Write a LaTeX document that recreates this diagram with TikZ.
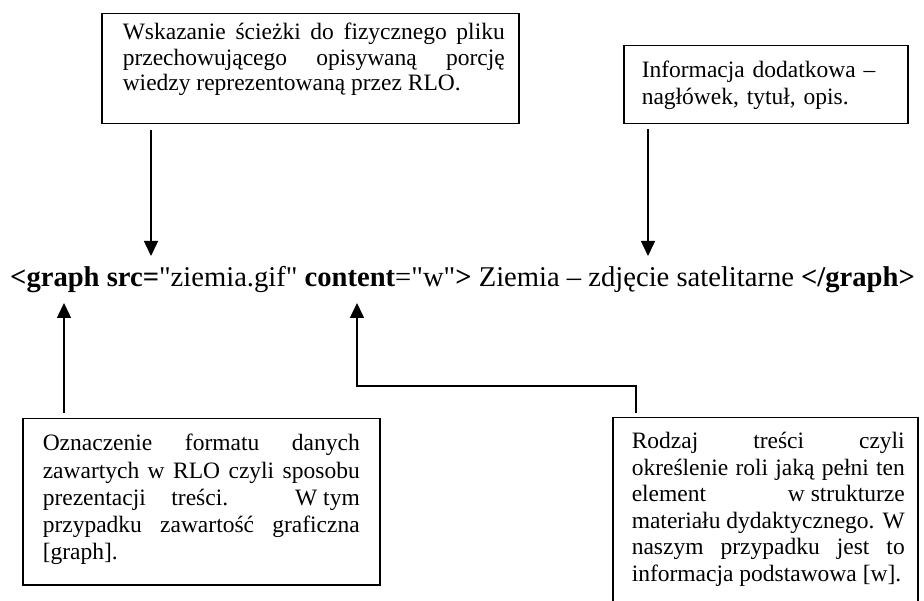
\documentclass[tikz,border=0pt]{standalone}
\usepackage{fontspec}
\setmainfont{Liberation Serif}
\usepackage{tikz}
\usetikzlibrary{arrows.meta}
\newcommand{\notefont}{\fontsize{23.5}{26.5}\selectfont}
\newcommand{\markupfont}{\fontsize{28.6}{32}\selectfont}
\newcommand{\qt}{\textquotedbl}
\hyphenpenalty=10000
\exhyphenpenalty=10000

\begin{document}
\begin{tikzpicture}[
    x=1pt, y=-1pt,
    note/.style={
        rectangle, draw, line width=1.5pt, anchor=north west,
        inner ysep=0pt, inner xsep=14pt,
        align=justify, font=\notefont
    },
    arrow/.style={-{Triangle[length=15pt, width=14pt]}, line width=1.5pt}
]
\useasboundingbox (0,0) rectangle (924,601);
\clip (0,0) rectangle (924,601);

% Markup line
\node[anchor=base west, inner sep=0pt, font=\markupfont] (tag) at (10,287)
    {\textbf{<graph src=}\qt ziemia.gif\qt{} \textbf{content}=\qt w\qt\textbf{>} Ziemia – zdjęcie satelitarne \textbf{</graph>}};

% Upper notes
\node[note, font=\fontsize{23.5}{25.5}\selectfont, text width=389pt, text height=26pt, text depth=84pt] (srcnote) at (101,13)
    {\leftskip=7pt Wskazanie ścieżki do fizycznego pliku\linebreak
     przechowującego opisywaną porcję\linebreak
     wiedzy reprezentowaną przez RLO.\par};
\node[note, align=left, text width=256pt, text height=32pt, text depth=46pt] (infonote) at (623,45)
    {\hspace*{4pt}Informacja dodatkowa –\\\hspace*{4pt}nagłówek, tytuł, opis.};

% Lower notes
\node[note, font=\fontsize{23.5}{27.3}\selectfont, inner xsep=20pt, text width=317pt, text height=32pt, text depth=134pt] (fmtnote) at (22,418)
    {Oznaczenie formatu danych\linebreak
     zawartych w RLO czyli sposobu\linebreak
     prezentacji treści. \mbox{W tym}\linebreak
     przypadku zawartość graficzna\linebreak
     {[graph].}\par};
\node[note, inner xsep=13pt, text width=279pt, text height=31pt, text depth=190pt] (rolenote) at (612,417)
    {\leftskip=6pt Rodzaj treści czyli\linebreak
     określenie roli jaką pełni ten\linebreak
     element \mbox{w strukturze}\linebreak
     materiału dydaktycznego. W\linebreak
     naszym przypadku jest to\linebreak
     informacja podstawowa [w].\par};

% Arrow ends
\coordinate (srcpt) at (151,256);
\coordinate (infopt) at (648,256);
\coordinate (fmtpt) at (64,303);
\coordinate (contpt) at (357,303);
\coordinate (bendpt) at (636,386);

% Connectors
\draw[arrow, shorten <=6pt] (srcnote.south -| srcpt) -- (srcpt);
\draw[arrow, shorten <=5pt] (infonote.south -| infopt) -- (infopt);
\draw[arrow, shorten <=5pt] (fmtnote.north -| fmtpt) -- (fmtpt);
\draw[arrow, shorten <=4pt] (rolenote.north -| bendpt) -- (bendpt) -| (contpt);

\end{tikzpicture}
\end{document}
